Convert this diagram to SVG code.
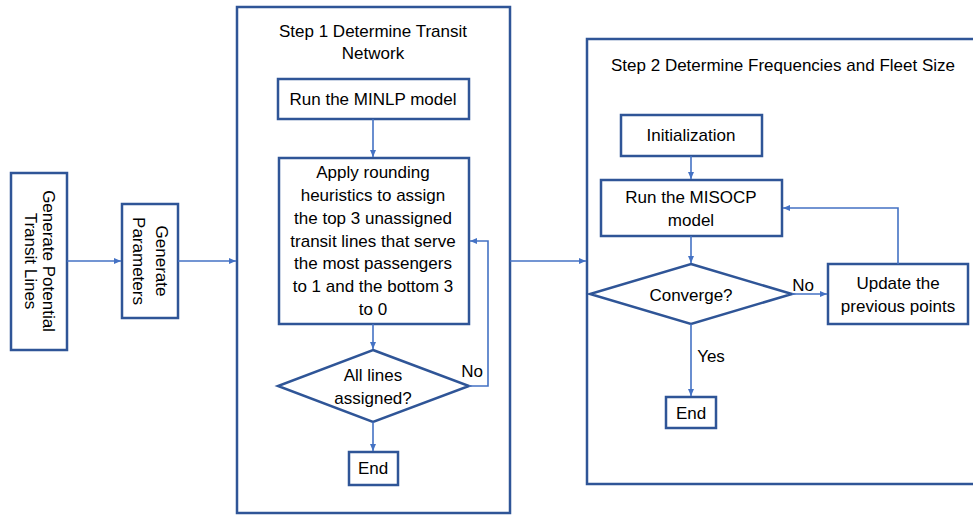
<svg xmlns="http://www.w3.org/2000/svg" width="973" height="516" viewBox="0 0 973 516">
<style>
.box{fill:#fff;stroke:#2F5597;stroke-width:2.5}
.frame{fill:none;stroke:#2F5597;stroke-width:2.5}
.t{font-family:"Liberation Sans",Arial,sans-serif;font-size:17px;fill:#000;text-anchor:middle;dominant-baseline:central}
.c{fill:none;stroke:#4472C4;stroke-width:1.6}
</style>
<defs>
<marker id="ah" markerWidth="8" markerHeight="8" refX="7" refY="4" orient="auto" markerUnits="userSpaceOnUse">
<path d="M0,1 L7,4 L0,7 Z" fill="#4472C4"/>
</marker>
</defs>
<rect width="973" height="516" fill="#fff"/>
<g id="step1">
<rect class="frame" x="237" y="7" width="273" height="506"/>
<text class="t" x="373" y="31">Step 1 Determine Transit</text>
<text class="t" x="373" y="53">Network</text>
</g>
<g id="step2">
<rect class="frame" x="587" y="39" width="390" height="445"/>
<text class="t" x="783" y="65">Step 2 Determine Frequencies and Fleet Size</text>
</g>
<g id="gen-lines">
<rect class="box" x="11" y="173" width="56" height="177"/>
<text class="t" transform="translate(48,261) rotate(90)">Generate Potential</text>
<text class="t" transform="translate(30,261) rotate(90)">Transit Lines</text>
</g>
<g id="gen-params">
<rect class="box" x="122" y="204" width="56" height="114"/>
<text class="t" transform="translate(161,261) rotate(90)">Generate</text>
<text class="t" transform="translate(138,261) rotate(90)">Parameters</text>
</g>
<g id="minlp">
<rect class="box" x="278" y="79" width="191" height="40"/>
<text class="t" x="373" y="99">Run the MINLP model</text>
</g>
<g id="rounding">
<rect class="box" x="279" y="158" width="190" height="166"/>
<text class="t" x="373" y="172">Apply rounding</text>
<text class="t" x="373" y="195">heuristics to assign</text>
<text class="t" x="373" y="218">the top 3 unassigned</text>
<text class="t" x="373" y="241">transit lines that serve</text>
<text class="t" x="373" y="263">the most passengers</text>
<text class="t" x="373" y="286">to 1 and the bottom 3</text>
<text class="t" x="373" y="309">to 0</text>
</g>
<g id="all-assigned">
<polygon class="box" points="373,350 469,386 373,422 278,386"/>
<text class="t" x="373" y="375">All lines</text>
<text class="t" x="373" y="398">assigned?</text>
</g>
<g id="end1">
<rect class="box" x="349" y="452" width="49" height="33"/>
<text class="t" x="373" y="468">End</text>
</g>
<g id="init">
<rect class="box" x="621" y="115" width="141" height="41"/>
<text class="t" x="691" y="135">Initialization</text>
</g>
<g id="misocp">
<rect class="box" x="601" y="180" width="181" height="56"/>
<text class="t" x="691" y="197">Run the MISOCP</text>
<text class="t" x="691" y="220">model</text>
</g>
<g id="converge">
<polygon class="box" points="691,264 792,294 691,324 590,294"/>
<text class="t" x="691" y="295">Converge?</text>
</g>
<g id="update">
<rect class="box" x="828" y="264" width="140" height="60"/>
<text class="t" x="898" y="283">Update the</text>
<text class="t" x="898" y="306">previous points</text>
</g>
<g id="end2">
<rect class="box" x="666" y="397" width="50" height="31"/>
<text class="t" x="691" y="413">End</text>
</g>
<g id="connectors">
<path class="c" d="M67,261 H121" marker-end="url(#ah)"/>
<path class="c" d="M178,261 H236" marker-end="url(#ah)"/>
<path class="c" d="M373,119 V157" marker-end="url(#ah)"/>
<path class="c" d="M373,324 V349" marker-end="url(#ah)"/>
<path class="c" d="M469,386 H488 V241 H470" marker-end="url(#ah)"/>
<path class="c" d="M373,422 V451" marker-end="url(#ah)"/>
<path class="c" d="M510,261 H586" marker-end="url(#ah)"/>
<path class="c" d="M691,156 V179" marker-end="url(#ah)"/>
<path class="c" d="M691,236 V263" marker-end="url(#ah)"/>
<path class="c" d="M792,294 H827" marker-end="url(#ah)"/>
<path class="c" d="M898,264 V208 H783" marker-end="url(#ah)"/>
<path class="c" d="M691,324 V396" marker-end="url(#ah)"/>
<text class="t" x="472" y="371">No</text>
<text class="t" x="803" y="285">No</text>
<text class="t" x="711" y="356">Yes</text>
</g>
</svg>
